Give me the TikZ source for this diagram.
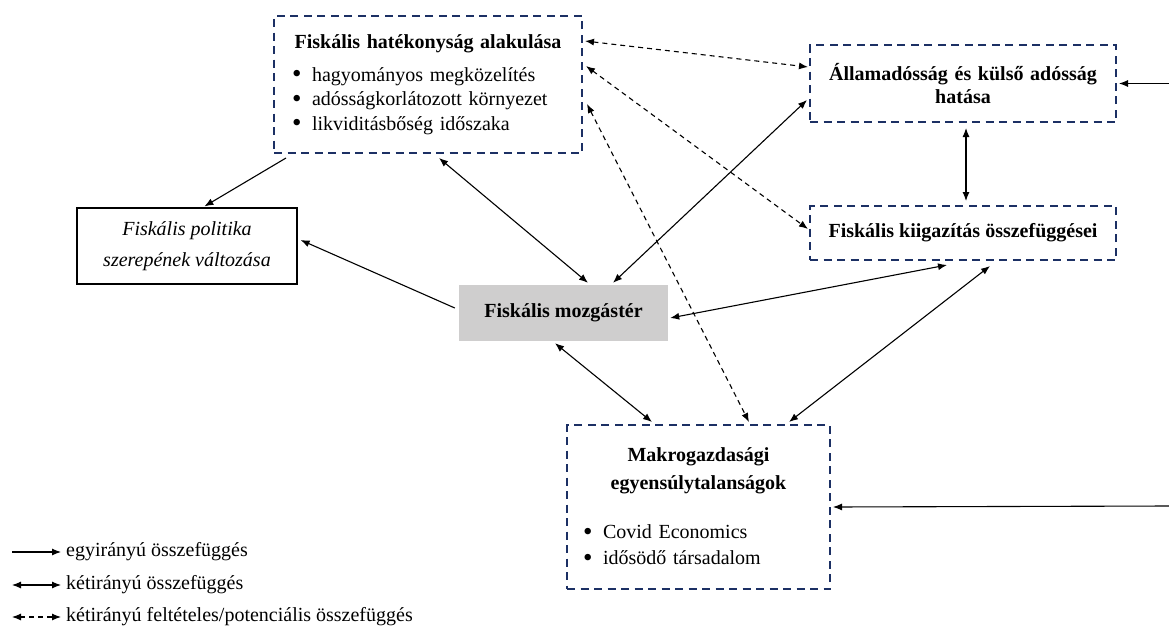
\documentclass[tikz,border=0pt]{standalone}
\usepackage{fontspec}
\setmainfont{Liberation Serif}
\usetikzlibrary{arrows.meta}
\definecolor{boxnavy}{RGB}{28,48,100}
\definecolor{boxgray}{RGB}{207,206,206}
\newcommand{\bul}{\makebox[20pt][l]{\raisebox{-1.8pt}{\scalebox{1.35}{\textbullet}}}}

\begin{document}
\begin{tikzpicture}[%
      x=1pt, y=-1pt,
      font=\fontsize{20}{24.5}\selectfont,
      dbox/.style={draw=boxnavy, line width=2pt, dash pattern=on 8pt off 5.5pt},
      conn/.style={line width=1.1pt, -{Latex[length=9pt,width=7pt]}},
      bconn/.style={line width=1.1pt, {Latex[length=9pt,width=7pt]}-{Latex[length=9pt,width=7pt]}},
      pconn/.style={line width=1.1pt, dash pattern=on 5pt off 4pt,
        {Latex[length=9pt,width=7pt]}-{Latex[length=9pt,width=7pt]}},
      ]
      \useasboundingbox (0,0) rectangle (1169,629);

      % boxes
      \node [dbox, minimum width=308, minimum height=137, text width=272,
        align=left, inner sep=0pt] (b1) at (428,84.5)
        {{\centering\bfseries Fiskális hatékonyság alakulása\par}
         \vspace{8pt}
         \bul hagyományos megközelítés\\
         \bul adósságkorlátozott környezet\\
         \bul likviditásbőség időszaka};
      \node [dbox, minimum width=306, minimum height=77, text width=300,
        align=center, inner sep=0pt, font=\fontsize{20}{23}\selectfont\bfseries]
        (b2) at (963,83.5) {Államadósság és külső adósság\\hatása};
      \node [dbox, minimum width=306, minimum height=54, inner sep=0pt,
        font=\fontsize{20}{22}\selectfont\bfseries]
        (b3) at (963,233) {Fiskális kiigazítás összefüggései};
      \node [draw, line width=1.2pt, minimum width=220, minimum height=76,
        align=center, inner sep=0pt, font=\fontsize{20}{24}\selectfont\itshape]
        (b4) at (187,246) {Fiskális politika\\[7pt]szerepének változása};
      \node [fill=boxgray, minimum width=209, minimum height=56, inner sep=0pt,
        font=\fontsize{20}{22}\selectfont\bfseries]
        (b5) at (563.5,313) {Fiskális mozgástér};
      \node [dbox, minimum width=263, minimum height=164, text width=231,
        align=left, inner sep=0pt] (b6) at (698.5,507)
        {{\centering\bfseries Makrogazdasági\\[3pt]egyensúlytalanságok\par}
         \vspace{25pt}
         \bul Covid Economics\\[1pt]
         \bul idősödő társadalom};

      % connectors
      \draw [conn] ([xshift=13pt,yshift=-4pt]b1.south west) -- ([xshift=128pt,yshift=1pt]b4.north west);
      \draw [conn] ([xshift=-4pt,yshift=5pt]b5.west) -- ([xshift=3pt,yshift=6pt]b4.east);
      \draw [bconn] ([xshift=166pt,yshift=-4pt]b1.south west) -- ([xshift=24.5pt,yshift=2pt]b5.north);
      \draw [pconn] ([xshift=2pt,yshift=-26pt]b1.north east) -- ([xshift=-1pt,yshift=-23pt]b2.north west);
      \draw [pconn] ([xshift=3pt,yshift=-51pt]b1.north east) -- ([xshift=-1pt,yshift=4pt]b3.west);
      \draw [pconn] ([xshift=4pt,yshift=-89pt]b1.north east) -- ([xshift=183pt,yshift=2pt]b6.north west);
      \draw [bconn] ([xshift=-2pt,yshift=-16.5pt]b2.west) -- ([xshift=49.5pt,yshift=2pt]b5.north);
      \draw [bconn] ([xshift=3pt,yshift=-5pt]b2.south) -- ([xshift=3pt,yshift=4pt]b3.north);
      \draw [bconn] ([xshift=-16pt,yshift=-4pt]b3.south) -- ([xshift=2pt,yshift=-5pt]b5.east);
      \draw [bconn] ([xshift=27pt,yshift=-5pt]b3.south) -- ([xshift=223pt,yshift=2pt]b6.north west);
      \draw [bconn] ([xshift=-8.5pt,yshift=-2pt]b5.south) -- ([xshift=86pt,yshift=2pt]b6.north west);

      \coordinate (in2) at (1169,83.5);
      \coordinate (in6) at (1169,506);
      \draw [conn] (in2) -- ([xshift=2pt]b2.east);
      \draw [conn] (in6) -- ([xshift=2pt]b6.east);

      % legend
      \node [anchor=west, inner sep=0pt] (lg1) at (66,552) {egyirányú összefüggés};
      \node [anchor=west, inner sep=0pt] (lg2) at (66,585) {kétirányú összefüggés};
      \node [anchor=west, inner sep=0pt] (lg3) at (66,617) {kétirányú feltételes/potenciális összefüggés};
      \coordinate (lg1s) at (12,552);
      \coordinate (lg2s) at (12,585);
      \coordinate (lg3s) at (12,617);
      \draw [conn] (lg1s) -- ([xshift=-5pt]lg1.west);
      \draw [bconn] (lg2s) -- ([xshift=-5pt]lg2.west);
      \draw [pconn] (lg3s) -- ([xshift=-5pt]lg3.west);
      \end{tikzpicture}
\end{document}
